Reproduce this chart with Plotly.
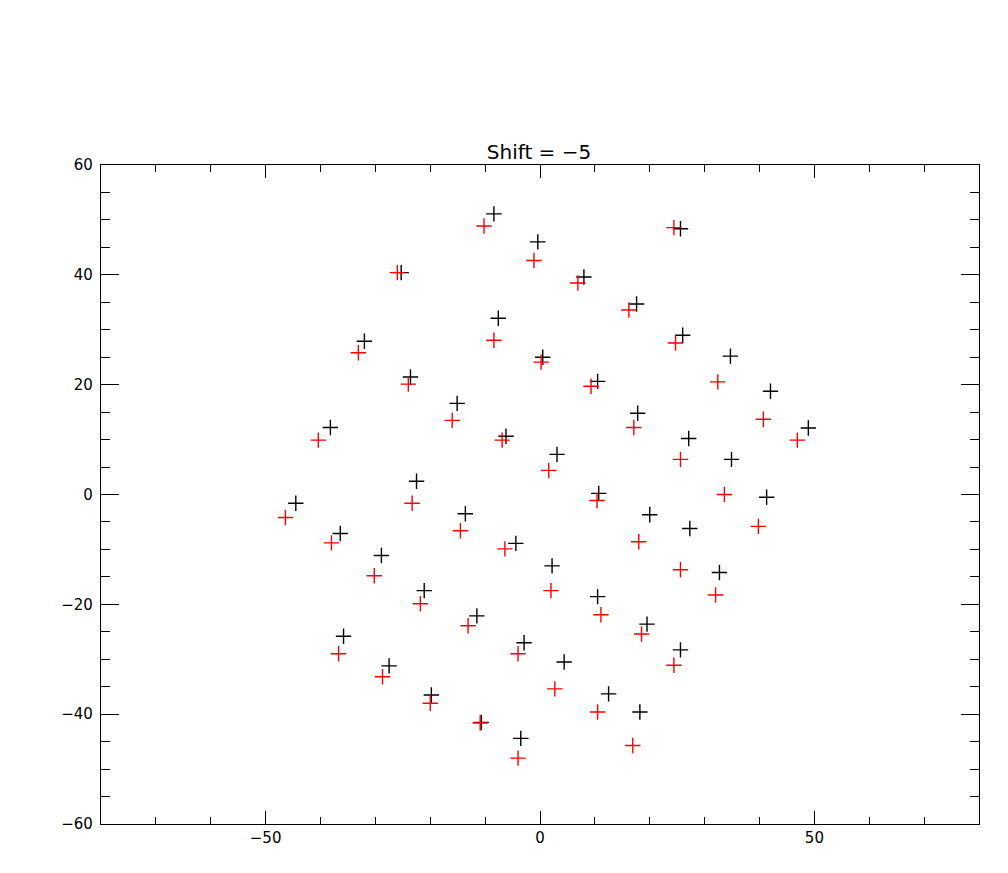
import plotly.graph_objects as go

black_x = [-8.4, -0.4, 8.0, 25.6, -25.3, 17.6, -7.6, 26.0, -32.0, 0.5, 34.7, -23.6,
           10.5, 42.0, -15.1, 17.8, -38.2, -6.2, 27.1, 48.9, 3.1, 34.9, -22.5, 10.7,
           41.3, -44.5, -13.6, 20.0, -36.4, -4.4, 27.3, -28.9, 2.2, 32.7, -21.1, 10.5,
           -11.5, 19.5, -35.8, -2.9, 25.6, -27.5, 4.4, -19.8, 12.5, -10.7, 18.2, -3.5]
black_y = [51.1, 46.0, 39.6, 48.4, 40.4, 34.7, 32.1, 29.0, 27.9, 25.0, 25.2, 21.4,
           20.6, 18.8, 16.6, 14.8, 12.2, 10.6, 10.2, 12.1, 7.3, 6.4, 2.4, 0.2,
           -0.5, -1.6, -3.5, -3.7, -7.1, -8.9, -6.2, -11.1, -13.0, -14.2, -17.5, -18.6,
           -22.1, -23.6, -25.8, -27.0, -28.3, -31.2, -30.5, -36.5, -36.3, -41.5, -39.6, -44.4]

red_x = [-10.2, -1.1, 6.9, 24.4, -26.0, 16.2, -8.4, 24.7, -33.1, 0.2, 32.4, -24.0,
         9.3, 40.7, -16.0, 17.1, -40.4, -6.9, 25.6, 46.9, 1.6, 33.6, -23.3, 10.4,
         39.8, -46.4, -14.5, 18.0, -38.0, -6.4, 25.6, -30.2, 2.0, 32.0, -21.8, 11.1,
         -13.1, 18.5, -36.7, -4.0, 24.4, -28.7, 2.7, -20.0, 10.5, -10.9, 16.9, -4.0]
red_y = [48.9, 42.6, 38.5, 48.6, 40.4, 33.6, 28.1, 27.6, 25.8, 24.1, 20.5, 20.1,
         19.7, 13.7, 13.5, 12.2, 9.9, 9.9, 6.4, 9.9, 4.4, 0.0, -1.6, -1.1,
         -5.8, -4.2, -6.6, -8.6, -8.8, -9.9, -13.7, -14.8, -17.5, -18.3, -19.9, -21.9,
         -23.9, -25.4, -29.0, -29.0, -31.1, -33.2, -35.4, -38.0, -39.6, -41.6, -45.7, -48.0]

title_text = "Shift = \u22125"

fig = go.Figure()
fig.add_trace(go.Scatter(x=black_x, y=black_y, mode="markers",
                         marker=dict(symbol="cross-thin", size=11, color="black",
                                     line=dict(color="black", width=1.4))))
fig.add_trace(go.Scatter(x=red_x, y=red_y, mode="markers",
                         marker=dict(symbol="cross-thin", size=11, color="red",
                                     line=dict(color="red", width=1.4))))

font_family = "DejaVu Sans"
fig.update_layout(
    width=1008, height=873,
    margin=dict(l=93, r=37, t=157, b=57),
    plot_bgcolor="white", paper_bgcolor="white",
    showlegend=False,
    title=dict(text=title_text, x=(539 - 8) / 1008, xanchor="center", y=1 - 144 / 873, yanchor="middle",
               font=dict(family=font_family, size=20, color="black")),
    font=dict(family=font_family, color="black"),
)
fig.update_xaxes(range=[-80, 80], showgrid=False, zeroline=False,
                 showline=True, linecolor="black", linewidth=1.3, mirror="ticks",
                 ticks="inside", tickvals=[-50, 0, 50], ticklen=13, tickwidth=1.3,
                 tickcolor="black", tickfont=dict(size=15, family=font_family),
                 ticklabelstandoff=0,
                 minor=dict(tickvals=[-70, -60, -40, -30, -20, -10, 10, 20, 30, 40, 60, 70],
                            ticks="inside", ticklen=7, tickwidth=1.3, tickcolor="black",
                            showgrid=False))
fig.update_yaxes(range=[-60, 60], showgrid=False, zeroline=False,
                 showline=True, linecolor="black", linewidth=1.3, mirror="ticks",
                 ticks="inside", tickvals=[-60, -40, -20, 0, 20, 40, 60], ticklen=18, tickwidth=1.3,
                 tickcolor="black", tickfont=dict(size=15, family=font_family),
                 ticklabelstandoff=4,
                 minor=dict(dtick=5, ticks="inside", ticklen=9, tickwidth=1.3, tickcolor="black",
                            showgrid=False))

fig.write_html("out.html")
